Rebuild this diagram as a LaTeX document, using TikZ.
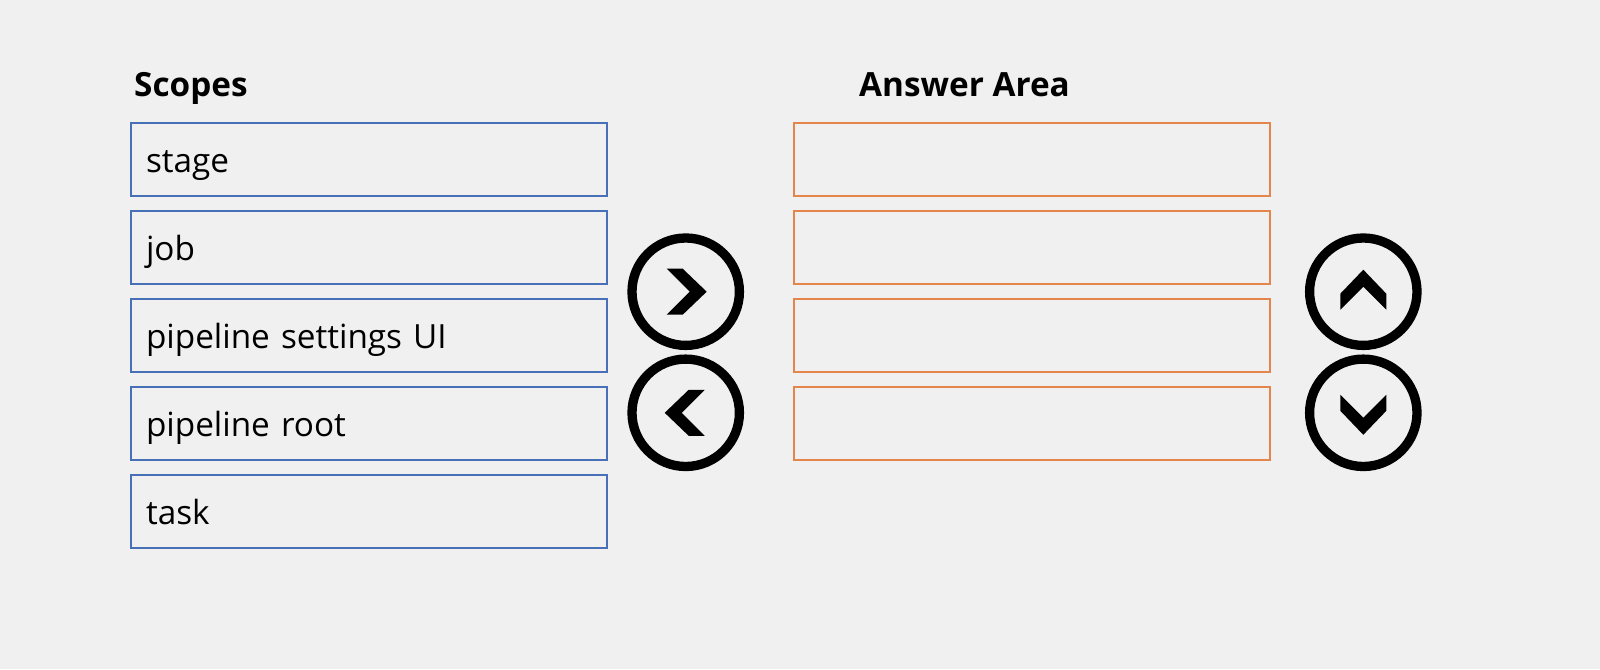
\documentclass[tikz,border=0pt]{standalone}
\usepackage{fontspec}
\setmainfont{Open Sans}
\usepackage{tikz}
\usetikzlibrary{positioning}
\definecolor{pagebg}{RGB}{240,240,240}
\definecolor{scopeblue}{RGB}{72,112,184}
\definecolor{answerorange}{RGB}{228,134,76}
\definecolor{ink}{RGB}{0,0,0}
\tikzset{
  title/.style={anchor=base west, inner sep=0pt, font=\fontsize{33.3}{38}\selectfont\bfseries, text=ink},
  scopebox/.style={draw=scopeblue, rectangle, line width=2pt, outer sep=0pt,
    text width=446pt, inner xsep=15pt, minimum height=73pt, align=left,
    text height=25pt, text depth=0pt, font=\fontsize{33.3}{40}\selectfont, text=ink},
  answerbox/.style={draw=answerorange, rectangle, line width=2pt, outer sep=0pt,
    minimum width=476pt, minimum height=73pt},
  btn/.style={draw=ink, circle, line width=9.3pt, minimum size=107.4pt, inner sep=0pt},
  chev/.pic={\fill[ink] (-19,-23) -- (-3,-23) -- (21,0) -- (-3,23) -- (-19,23) -- (4,0) -- cycle;},
}

\begin{document}
\begin{tikzpicture}[x=1pt, y=-1pt, node distance=15pt]
\fill[pagebg] (0,0) rectangle (1600,669);
\useasboundingbox (0,0) rectangle (1600,669);

% titles
\node[title] (scopes) at (134,96.7) {Scopes};
\node[title] (answer) at (859,96.7) {Answer Area};

% scopes list
\node[scopebox, anchor=north west] (s1) at (131,123) {stage};
\node[scopebox, below=of s1] (s2) {job};
\node[scopebox, below=of s2] (s3) {pipeline settings UI};
\node[scopebox, below=of s3] (s4) {pipeline root};
\node[scopebox, below=of s4] (s5) {task};

% answer slots
\node[answerbox, anchor=north west] (a1) at (794,123) {};
\node[answerbox, below=of a1] (a2) {};
\node[answerbox, below=of a2] (a3) {};
\node[answerbox, below=of a3] (a4) {};

% move buttons
\node[btn] (btnR) at (685.7,291.7) {};
\node[btn] (btnL) at (685.7,412.8) {};
\node[btn] (btnU) at (1363.3,291.7) {};
\node[btn] (btnD) at (1363.3,412.8) {};
\pic at (btnR.center) {chev};
\pic[rotate=180] at (btnL.center) {chev};
\pic[rotate=90] at ([yshift=1pt]btnU.center) {chev};
\pic[rotate=-90] at ([yshift=-1pt]btnD.center) {chev};
\end{tikzpicture}
\end{document}
